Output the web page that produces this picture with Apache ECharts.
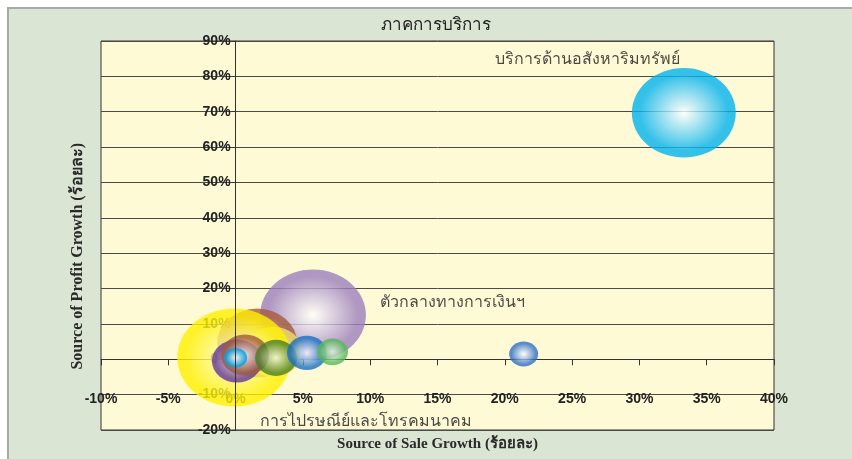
<!DOCTYPE html>
<html>
<head>
<meta charset="utf-8">
<title>ภาคการบริการ</title>
<script src="https://cdn.jsdelivr.net/npm/echarts@6/dist/echarts.min.js"></script>
<style>
  html, body { margin: 0; padding: 0; background: #ffffff; }
  #frame {
    position: absolute; left: 7px; top: 7px; width: 845px; height: 452px;
    background: #dbe5d3; border-top: 2px solid #a9a9a9; border-left: 2px solid #a9a9a9;
    box-sizing: border-box;
  }
  #chart { position: absolute; left: 0; top: 0; width: 852px; height: 459px; }
</style>
</head>
<body>
<div id="frame"></div>
<div id="chart"></div>
<script>
// bubbles in drawing order (back to front)
const sectorNames = [
  'บริการด้านอสังหาริมทรัพย์',
  'ตัวกลางทางการเงินฯ',
  'สาขา 3',
  'สาขา 4',
  'สาขา 5',
  'สาขา 6',
  'สาขา 7',
  'การไปรษณีย์และโทรคมนาคม',
  'สาขา 9',
  'สาขา 10',
  'สาขา 11',
  'สาขา 12'
]
const saleGrowth = [33.3, 5.75, 1.6, 2.8, -0.1, 0.1, 0.7, 3.0, 0.0, 5.3, 7.2, 21.4]
const profitGrowth = [69.7, 12.5, 4.6, 2.1, 0.5, -0.5, 1.2, 0.4, 0.4, 1.8, 2.1, 1.5]
const bubbleSize = [108, 112, 64, 34, 130, 25, 23, 17.6, 5.3, 16, 9.6, 8.4]
const xTicks = { min: -10, max: 40, step: 5 }
const yTicks = { min: -20, max: 90, step: 10 }

// edge colour / centre colour of each bubble
const palette = [
  ['#00b2ee', '#ffffff'],
  ['#9b7fbc', '#ffffff'],
  ['#a65a3e', '#f2ddd2'],
  ['#efe068', '#fffbe0'],
  ['#fff000', '#fffde8'],
  ['#63379a', '#d9c8ee'],
  ['#9e5a3d', '#f6e9e2'],
  ['#4b7f2b', '#eef5e6'],
  ['#00a4e6', '#ffffff'],
  ['#1c6fc2', '#ffffff'],
  ['#58b85a', '#e8f8e6'],
  ['#2f6fc6', '#ffffff']
]
// label offsets for the named bubbles
const labelOffset = {
  0: [-96, -53],
  1: [140, -13],
  7: [90, 64]
}

const gridBox = { left: 101, top: 41, width: 673, height: 389 }

const bubbles = sectorNames.map((name, i) => {
  const item = {
    name: name,
    value: [saleGrowth[i], profitGrowth[i], bubbleSize[i]],
    itemStyle: {
      color: {
        type: 'radial', x: 0.5, y: 0.5, r: 0.5,
        colorStops: [
          { offset: 0, color: palette[i][1] },
          { offset: 0.85, color: palette[i][0] },
          { offset: 1, color: palette[i][0] }
        ]
      }
    }
  }
  if (labelOffset[i]) {
    item.label = {
      show: true,
      position: 'inside',
      offset: labelOffset[i],
      formatter: '{b}',
      color: '#1a1a1a',
      fontSize: 16,
      fontFamily: 'Noto Sans, sans-serif'
    }
  }
  return item
})

const chart = echarts.init(document.getElementById('chart'), null, { renderer: 'canvas' })
chart.setOption({
  backgroundColor: 'transparent',
  animation: false,
  title: {
    text: 'ภาคการบริการ',
    left: 376,
    top: 12,
    textStyle: { fontSize: 17, fontWeight: 'normal', color: '#222', fontFamily: 'Noto Sans, sans-serif' }
  },
  grid: {
    left: gridBox.left,
    top: gridBox.top,
    width: gridBox.width,
    height: gridBox.height,
    outerBoundsMode: 'none',
    show: true,
    backgroundColor: '#fffad6',
    borderColor: '#333',
    borderWidth: 1
  },
  xAxis: {
    type: 'value',
    position: 'bottom',
    min: xTicks.min,
    max: xTicks.max,
    interval: xTicks.step,
    name: 'Source of Sale Growth (ร้อยละ)',
    nameLocation: 'middle',
    nameGap: 77,
    nameTextStyle: { fontSize: 15, fontWeight: 'bold', color: '#2a2a2a', fontFamily: 'Liberation Serif, serif' },
    axisLine: { show: true, onZero: false, lineStyle: { color: '#333', width: 1 } },
    axisTick: { show: true, length: 6, lineStyle: { color: '#333' } },
    axisLabel: {
      margin: 33,
      formatter: '{value}%',
      fontSize: 14,
      fontWeight: 'bold',
      color: '#222',
      fontFamily: 'Liberation Sans, Arial, sans-serif'
    },
    splitLine: { show: false }
  },
  yAxis: {
    type: 'value',
    position: 'left',
    min: yTicks.min,
    max: yTicks.max,
    interval: yTicks.step,
    axisLine: { show: true, onZero: false, lineStyle: { color: '#333', width: 1 } },
    axisTick: { show: true, length: 4, lineStyle: { color: '#333' } },
    axisLabel: {
      margin: 5,
      formatter: '{value}%',
      fontSize: 14,
      fontWeight: 'bold',
      color: '#222',
      fontFamily: 'Liberation Sans, Arial, sans-serif'
    },
    splitLine: { show: true, lineStyle: { color: '#4a4a4a', width: 1 } }
  },
  graphic: [{
    type: 'text',
    left: 70,
    top: 143,
    style: {
      text: 'Source of Profit Growth (ร้อยละ)',
      fontSize: 16,
      fontWeight: 'bold',
      fill: '#2a2a2a',
      fontFamily: 'Liberation Serif, serif'
    },
    rotation: Math.PI / 2,
    originX: 0,
    originY: 0
  }],
  series: [{
    // vertical zero line, kept behind the bubbles
    type: 'scatter',
    data: [],
    z: 1,
    silent: true,
    markLine: {
      silent: true,
      symbol: 'none',
      label: { show: false },
      lineStyle: { color: '#333', width: 1, type: 'solid' },
      data: [{ xAxis: 0 }]
    }
  }, {
    type: 'scatter',
    data: bubbles,
    z: 2,
    symbol: 'circle',
    symbolSize: function (val) {
      const w = Math.sqrt(val[2]) * 10
      return [w, w * 0.86]
    },
    emphasis: { disabled: true }
  }]
})

// move both axes (line, ticks, labels) onto the zero of the other axis
const zeroX = chart.convertToPixel({ xAxisIndex: 0 }, 0)
const zeroY = chart.convertToPixel({ yAxisIndex: 0 }, 0)
chart.setOption({
  xAxis: { offset: zeroY - (gridBox.top + gridBox.height) },
  yAxis: { offset: gridBox.left - zeroX }
})
</script>
</body>
</html>
